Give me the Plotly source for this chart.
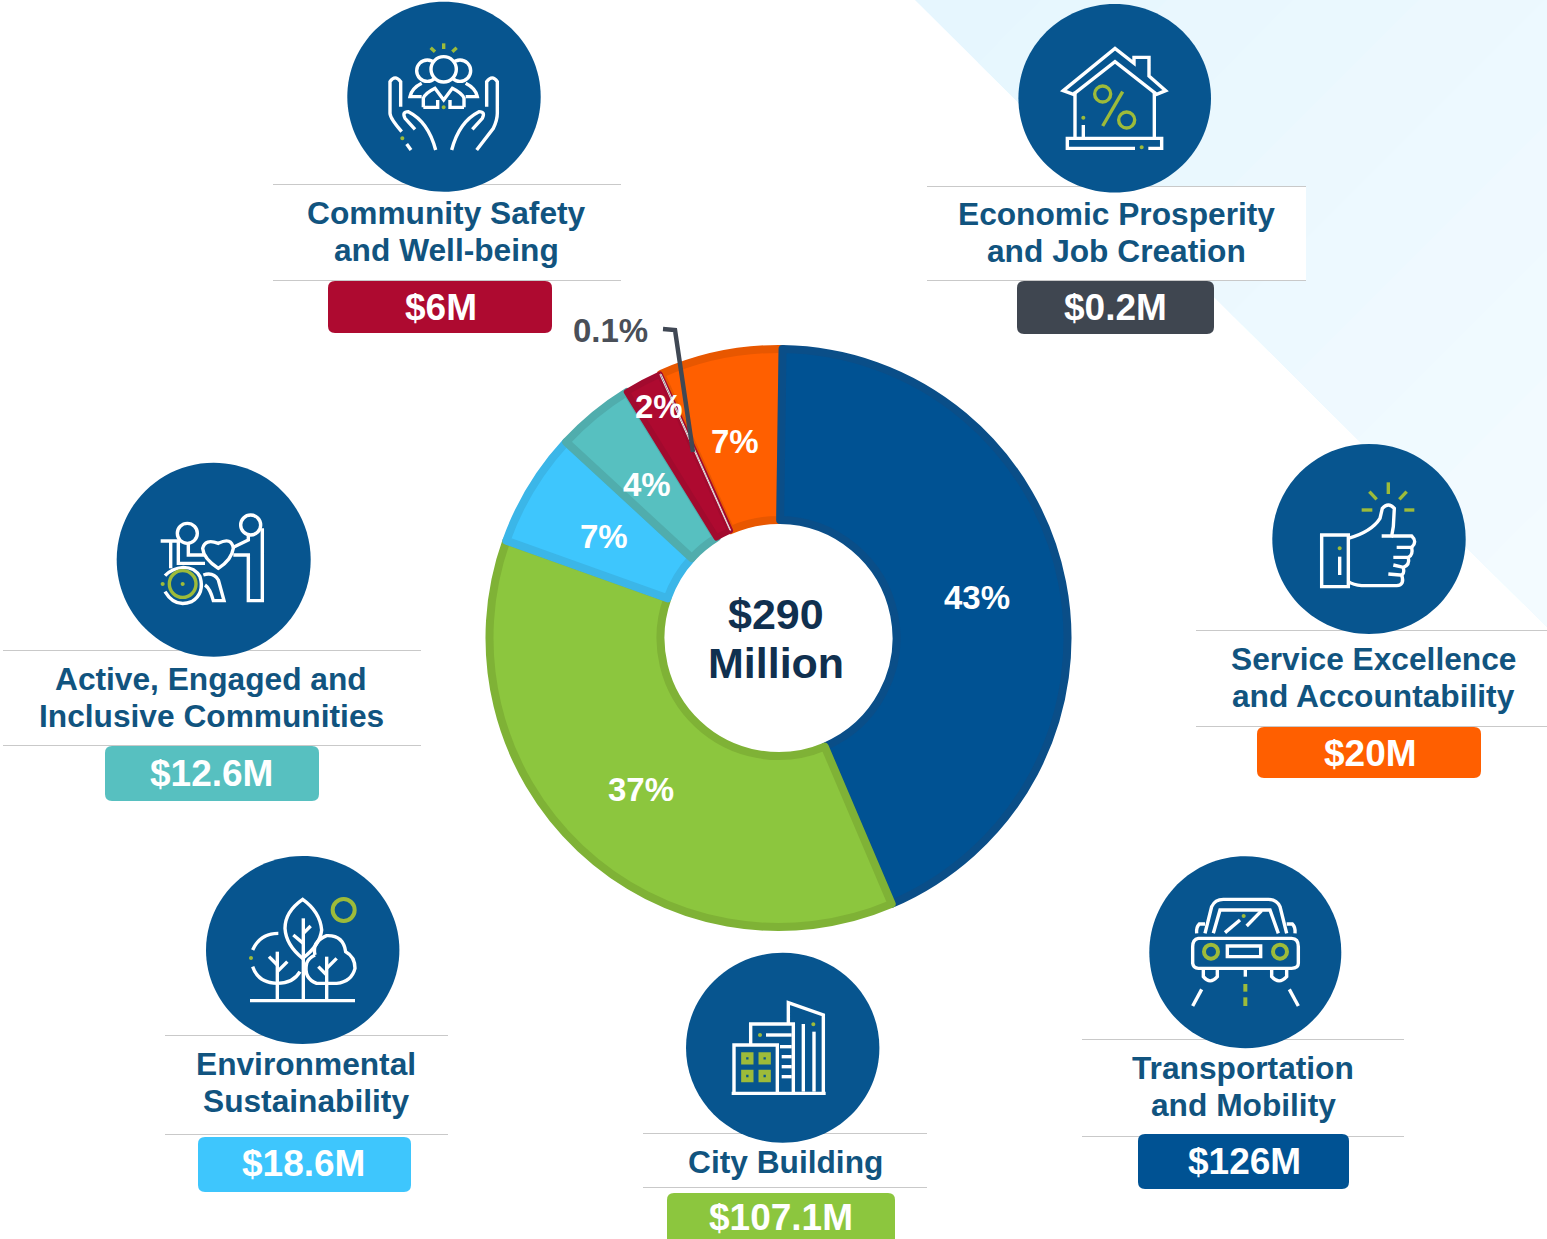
import re
import plotly.graph_objects as go

# ---------- data ----------
categories = ["Transportation and Mobility", "City Building", "Environmental Sustainability",
              "Active, Engaged and Inclusive Communities", "Community Safety and Well-being",
              "Economic Prosperity and Job Creation", "Service Excellence and Accountability"]
values_musd = [126, 107.1, 18.6, 12.6, 6, 0.2, 20]
pct_labels = ["43%", "37%", "7%", "4%", "2%", "0.1%", "7%"]
heading_lines = [["Transportation", "and Mobility"], ["City Building"],
                 ["Environmental", "Sustainability"],
                 ["Active, Engaged and", "Inclusive Communities"],
                 ["Community Safety", "and Well-being"],
                 ["Economic Prosperity", "and Job Creation"],
                 ["Service Excellence", "and Accountability"]]
center_lines = ["$290", "Million"]

# ---------- style / layout ----------
W, H = 1547, 1239
slice_colors = ["#005293", "#8cc63e", "#3ec6fd", "#57c0c0", "#ae0a30", "#3f4650", "#ff5f00"]
slice_borders = ["#0a4e88", "#7fb236", "#3bb6e8", "#50adad", "#a20a2e", "#e8dcdc", "#e85700"]
border_widths = [8, 8, 8, 8, 6, 1, 8]
badge_colors = slice_colors
ICON_BLUE = "#07558f"
HEAD = "#11547f"
FONT = "Liberation Sans"
HEAD_SIZE = 31.7
CX, CY, R_OUT, R_IN = 778.5, 638, 289, 118
pct_pos = [(977, 597), (641, 789), (604, 536), (647, 484), (659, 406), (610, 330), (735, 441)]
blocks = [
    dict(x=1243, ys=[1068, 1105], rule=(1082, 1404, [1039, 1136]), box=(1138, 1134, 1349, 1189), t=(1244, 1161)),
    dict(x=785, ys=[1162], rule=(643, 927, [1133, 1187]), box=(667, 1193, 895, 1245), t=(781, 1217)),
    dict(x=306, ys=[1064, 1101], rule=(165, 448, [1035, 1134]), box=(198, 1137, 411, 1192), t=(303, 1163)),
    dict(x=211, ys=[679, 716], rule=(3, 421, [650, 745]), box=(105, 746, 319, 801), t=(211, 773)),
    dict(x=446, ys=[213, 250], rule=(273, 621, [184, 280]), box=(328, 281, 552, 333), t=(441, 307)),
    dict(x=1116, ys=[214, 251], rule=(927, 1306, [186, 280]), box=(1017, 281, 1214, 334), t=(1115, 307)),
    dict(x=1373, ys=[659, 696], rule=(1196, 1547, [630, 726]), box=(1257, 727, 1481, 778), t=(1370, 753)),
]
circles = [(1245.3, 952.2, 96, 96), (782.7, 1047.7, 96.7, 95), (302.7, 950, 96.7, 94),
           (213.7, 559.7, 97, 97), (444, 96.7, 96.7, 95), (1114.7, 98.3, 96.3, 94.3),
           (1369, 539, 96.7, 95)]

shapes = []


def path(d, color=None, width=0, fill=None, layer="above"):
    s = dict(type="path", path=d, xref="x", yref="y", layer=layer,
             line=dict(color=color or "rgba(0,0,0,0)", width=width))
    if fill:
        s["fillcolor"] = fill
    shapes.append(s)


def ell_d(x, y, rx, ry):
    kx, ky = 0.5523 * rx, 0.5523 * ry
    return (f"M {x-rx},{y} C {x-rx},{y-ky} {x-kx},{y-ry} {x},{y-ry} C {x+kx},{y-ry} {x+rx},{y-ky} {x+rx},{y} "
            f"C {x+rx},{y+ky} {x+kx},{y+ry} {x},{y+ry} C {x-kx},{y+ry} {x-rx},{y+ky} {x-rx},{y} Z")


def scaled(d, ox, oy):
    out, i = [], 0
    def rep(m):
        nonlocal i
        v = float(m.group(0)) / 3
        v = v + (ox if i % 2 == 0 else oy)
        i += 1
        return f"{v:.2f}"
    return re.sub(r"-?\d+\.?\d*", rep, d)


GREEN = "#9dbb3a"
WHITE = "#ffffff"


def icon(ox, oy, whites=(), greens=(), rings=(), dots=(), white_rings=(), filled_rings=(), w=3.4, gw=3.4):
    for (x, y, r) in white_rings:
        path(ell_d(ox + x / 3, oy + y / 3, r / 3, r / 3), WHITE, w)
    for d in whites:
        path(scaled(d, ox, oy), WHITE, w)
    for (x, y, r) in filled_rings:
        path(ell_d(ox + x / 3, oy + y / 3, r / 3, r / 3), WHITE, w, ICON_BLUE)
    for d in greens:
        path(scaled(d, ox, oy), GREEN, gw)
    for (x, y, r) in rings:
        path(ell_d(ox + x / 3, oy + y / 3, r / 3, r / 3), GREEN, gw)
    for (x, y) in dots:
        path(ell_d(ox + x / 3, oy + y / 3, 2, 2), None, 0, GREEN)


# background triangle, fading gently along its long edge
TRI_A, TRI_B, TRI_C = (915, 0), (W, 0), (W, 627)
c0, c1 = (230, 246, 254), (243, 251, 255)
N_BANDS = 10
span = (TRI_C[0] + TRI_C[1]) - TRI_A[0]
for k in range(N_BANDS):
    s = TRI_A[0] + span * k / N_BANDS
    t = (s - TRI_A[0]) / span
    ex, ey = TRI_A[0] + (TRI_C[0] - TRI_A[0]) * t, TRI_C[1] * t
    col = "rgb(%d,%d,%d)" % tuple(round(a + (b - a) * k / (N_BANDS - 1)) for a, b in zip(c0, c1))
    if s < W:
        d = f"M {ex},{ey} L {s},0 L {W},0 L {W},{TRI_C[1]} Z"
    else:
        d = f"M {ex},{ey} L {W},{s-W} L {W},{TRI_C[1]} Z"
    path(d, fill=col, layer="below")
# white panels behind two headings
path("M 927,186 L 1306,186 L 1306,280 L 927,280 Z", fill="#ffffff", layer="below")
path("M 1196,630 L 1547,630 L 1547,726 L 1196,726 Z", fill="#ffffff", layer="below")

for b, c in zip(blocks, badge_colors):
    x0, x1, ys = b["rule"]
    for y in ys:
        path(f"M {x0},{y+0.5} L {x1},{y+0.5}", "#c9c9c9", 1, layer="below")
    a, t, e, m = b["box"]
    r = 7
    path(f"M {a+r},{t} L {e-r},{t} Q {e},{t} {e},{t+r} L {e},{m-r} Q {e},{m} {e-r},{m} "
         f"L {a+r},{m} Q {a},{m} {a},{m-r} L {a},{t+r} Q {a},{t} {a+r},{t} Z", fill=c, layer="below")

for (x, y, rx, ry) in circles:
    path(ell_d(x, y, rx, ry), fill=ICON_BLUE)

# --- icons (outlined pictograms) ---
icon(340, 0,
     whites=["M 185,395 Q 150,355 150,340 L 150,245 Q 165,222 182,245 L 182,320",
             "M 225,388 L 195,355 Q 185,335 205,335 Q 265,365 287,450",
             "M 200,432 L 213,450",
             "M 410,450 L 460,385 Q 472,360 472,340 L 472,245 Q 457,222 440,245 L 440,320",
             "M 397,388 L 427,355 Q 437,335 417,335 Q 357,365 335,450",
             "M 250,322 L 250,295 Q 255,280 285,265 L 311,300 L 337,265 Q 367,280 372,295 L 372,322",
             "M 245,290 L 210,290 Q 215,265 245,250", "M 377,290 L 412,290 Q 407,265 377,250",
             "M 250,322 L 293,322 L 293,300", "M 372,322 L 330,322 L 330,300"],
     white_rings=[(262, 212, 32), (360, 212, 32)],
     filled_rings=[(311, 208, 38)],
     greens=["M 272,143 L 285,155", "M 311,130 L 311,147", "M 350,143 L 337,155"],
     dots=[(311, 322), (187, 415)])
icon(1010, 0,
     whites=["M 160,272 L 315,145 L 372,190 L 372,172 L 417,172 L 417,228 L 467,272 L 440,283 L 315,185 L 190,283 Z",
             "M 195,275 L 195,415", "M 433,275 L 433,415",
             "M 375,445 L 172,445 L 172,415 L 455,415 L 455,445 L 415,445", "M 220,375 L 220,412"],
     greens=["M 338,275 L 278,378"], rings=[(278, 282, 24), (350, 360, 24)],
     dots=[(220, 353), (395, 442)])
icon(110, 460,
     whites=["M 152,243 L 205,243 L 205,310 L 285,310", "M 182,243 L 182,325",
             "M 235,250 L 235,285 L 285,285",
             "M 325,325 Q 280,295 278,265 Q 285,235 325,250 Q 365,230 370,265 Q 365,300 325,325 Z",
             "M 370,262 L 415,240 L 415,222", "M 370,285 L 415,285 L 415,422 L 457,422 L 457,205",
             "M 165,395 Q 195,445 245,425 Q 285,400 270,350 Q 255,322 220,322 Q 185,325 165,347",
             "M 280,345 Q 310,335 325,360 L 342,422 L 310,422 Q 300,385 285,375"],
     white_rings=[(232, 220, 30), (422, 195, 30)],
     rings=[(218, 372, 40)], dots=[(218, 372), (158, 372)])
icon(1265, 440,
     whites=["M 170,285 L 250,285 L 250,440 L 170,440 Z",
             "M 250,295 Q 320,275 345,235 L 352,205 Q 370,185 388,205 L 385,260 L 380,288 L 350,288",
             "M 380,288 L 440,288 Q 458,305 440,322 L 395,322",
             "M 440,322 Q 445,345 430,352 L 385,352", "M 430,352 Q 435,375 415,382 L 385,375",
             "M 415,382 Q 420,405 405,405 L 370,402",
             "M 410,405 Q 420,435 395,437 L 290,437 Q 265,435 250,425", "M 224,350 L 224,405"],
     greens=["M 370,127 L 370,162", "M 313,155 L 335,178", "M 425,155 L 403,178",
             "M 290,210 L 322,210", "M 418,210 L 448,210"],
     dots=[(224, 325)])
icon(200, 850,
     whites=["M 150,452 L 465,452", "M 158,300 Q 180,250 235,250",
             "M 158,350 Q 175,400 232,400 Q 280,400 300,365",
             "M 308,148 Q 255,185 255,235 Q 258,285 308,325 Q 360,285 365,240 Q 360,185 308,148 Z",
             "M 345,315 Q 335,275 380,257 Q 430,255 437,305 Q 465,320 465,355 Q 455,395 410,400 L 350,400 Q 310,385 320,340 Q 325,325 345,315",
             "M 232,305 L 232,452", "M 310,205 L 310,452", "M 380,320 L 380,452",
             "M 207,320 L 232,345", "M 262,335 L 232,365", "M 280,255 L 310,280",
             "M 332,228 L 310,250", "M 355,350 L 380,375", "M 410,325 L 380,355"],
     rings=[(431, 180, 33)], dots=[(153, 324)], gw=4)
icon(680, 950,
     whites=["M 155,430 L 437,430", "M 162,430 L 162,285 L 292,285 L 292,430",
             "M 212,285 L 212,222 L 340,222 L 340,430",
             "M 325,222 L 325,158 L 430,195 L 430,430",
             "M 370,222 L 370,425", "M 402,245 L 402,425",
             "M 300,290 L 335,290", "M 305,320 L 335,320", "M 305,350 L 335,350", "M 305,380 L 335,380",
             "M 258,255 L 335,255"],
     greens=["M 191,314 L 213,314 L 213,336 L 191,336 Z", "M 243,314 L 265,314 L 265,336 L 243,336 Z",
             "M 191,367 L 213,367 L 213,389 L 191,389 Z", "M 243,367 L 265,367 L 265,389 L 243,389 Z"],
     dots=[(240, 255), (400, 223)], gw=5)
icon(1140, 850,
     whites=["M 175,265 Q 158,268 158,290 L 158,340 Q 160,355 175,355 L 455,355 Q 475,355 475,340 L 475,290 Q 475,265 455,265 Z",
             "M 195,250 L 215,170 Q 225,148 250,148 L 385,148 Q 410,148 420,170 L 440,250",
             "M 220,250 L 240,180 L 390,180 L 415,250",
             "M 195,222 L 178,222 Q 168,232 170,250", "M 440,222 L 457,222 Q 467,232 465,250",
             "M 262,288 L 362,288 L 362,320 L 262,320 Z",
             "M 190,358 L 190,380 Q 210,405 232,380 L 232,358",
             "M 395,358 L 395,380 Q 417,405 440,380 L 440,358",
             "M 185,418 L 158,468", "M 448,418 L 475,468", "M 316,360 L 316,380",
             "M 255,248 L 300,210", "M 320,228 L 365,182"],
     greens=["M 316,402 L 316,425", "M 316,442 L 316,468"],
     rings=[(213, 305, 21), (420, 305, 21)], dots=[(311, 198)], gw=4)

# leader line for the 0.1% label
path("M 663,329 L 675,330 L 693,452", "#404854", 4.5)

# ---------- text ----------
ann = []


def text(x, y, s, size, color):
    ann.append(dict(x=x, y=y, xref="x", yref="y", text=f"<b>{s}</b>", showarrow=False,
                    xanchor="center", yanchor="middle",
                    font=dict(family=FONT, size=size, color=color)))


for b, lines, v in zip(blocks, heading_lines, values_musd):
    for ln, y in zip(lines, b["ys"]):
        text(b["x"], y, ln, HEAD_SIZE, HEAD)
    text(b["t"][0], b["t"][1], f"${v:g}M", 37, "#ffffff")

for lab, (x, y) in zip(pct_labels, pct_pos):
    text(x, y, lab, 33, "#4a4f58" if lab == "0.1%" else "#ffffff")
text(776, 614, center_lines[0], 43, "#10304f")
text(776, 663, center_lines[1], 43, "#10304f")

# ---------- figure ----------
# Slices are drawn starting with the last one so that each slice's outline falls
# on the same side of its boundary; the rotation keeps them in their true places.
order = [6, 0, 1, 2, 3, 4, 5]
start_angle = -values_musd[6] / sum(values_musd) * 360 + 0.8

fig = go.Figure()
fig.add_trace(go.Scatter(x=[0, W], y=[0, H], mode="markers", marker=dict(opacity=0),
                         hoverinfo="skip", showlegend=False))
fig.add_trace(go.Pie(
    labels=[categories[i] for i in order], values=[values_musd[i] for i in order],
    sort=False, direction="clockwise", rotation=start_angle,
    hole=R_IN / R_OUT, textinfo="none", hoverinfo="label+value", showlegend=False,
    marker=dict(colors=[slice_colors[i] for i in order],
                line=dict(color=[slice_borders[i] for i in order],
                          width=[border_widths[i] for i in order])),
    domain=dict(x=[(CX - R_OUT) / W, (CX + R_OUT) / W],
                y=[1 - (CY + R_OUT) / H, 1 - (CY - R_OUT) / H]),
))
fig.update_layout(
    width=W, height=H, margin=dict(l=0, r=0, t=0, b=0), autosize=False,
    paper_bgcolor="#ffffff", plot_bgcolor="rgba(0,0,0,0)", showlegend=False,
    xaxis=dict(range=[0, W], visible=False, fixedrange=True),
    yaxis=dict(range=[H, 0], visible=False, fixedrange=True),
    shapes=shapes, annotations=ann,
)
fig.write_html("out.html", post_script="document.body.style.margin='0';document.body.style.overflow='hidden';",
               config=dict(displayModeBar=False))
